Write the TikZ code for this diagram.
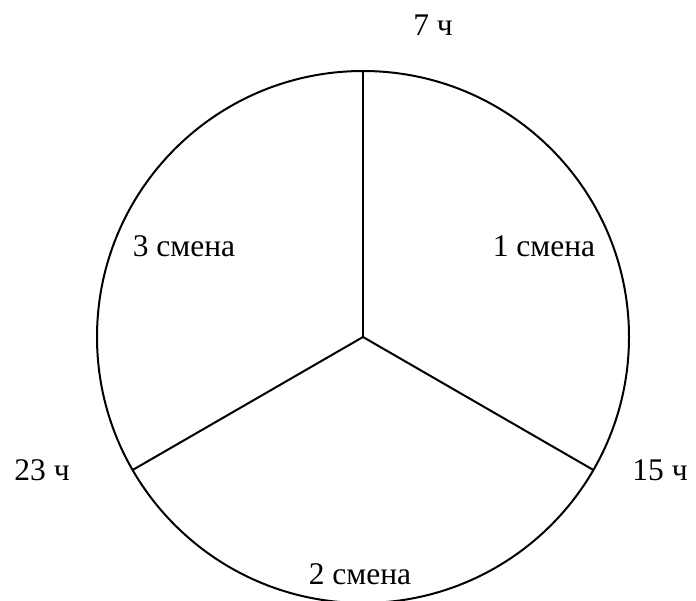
\documentclass[tikz,border=0pt]{standalone}
\usepackage{fontspec}
\setmainfont{Liberation Serif}
\usepackage{tikz}
\usetikzlibrary{calc}

\begin{document}
\begin{tikzpicture}[x=1pt,y=-1pt,
  rim/.style={line width=2pt},
  lbl/.style={font=\fontsize{31.5}{36}\selectfont, inner sep=0pt}]
\useasboundingbox (0,0) rectangle (696,601);
\clip (0,0) rectangle (696,601);
\coordinate (ctr) at (363,337);
\draw[rim] (ctr) circle[radius=266];
% shift borders
\coordinate (b7) at ($(ctr)+(0,-266)$);
\coordinate (b15) at ($(ctr)+(230.4,133)$);
\coordinate (b23) at ($(ctr)+(-230.4,133)$);
\draw[rim] (ctr) -- (b7);
\draw[rim] (ctr) -- (b15);
\draw[rim] (ctr) -- (b23);
\node[lbl] (h7) at (433,25) {7 ч};
\node[lbl] (h15) at (660,470) {15 ч};
\node[lbl] (h23) at (42,470) {23 ч};
\node[lbl] (s1) at (544,246) {1 смена};
\node[lbl] (s2) at (360,574) {2 смена};
\node[lbl] (s3) at (184,246) {3 смена};
\end{tikzpicture}
\end{document}
